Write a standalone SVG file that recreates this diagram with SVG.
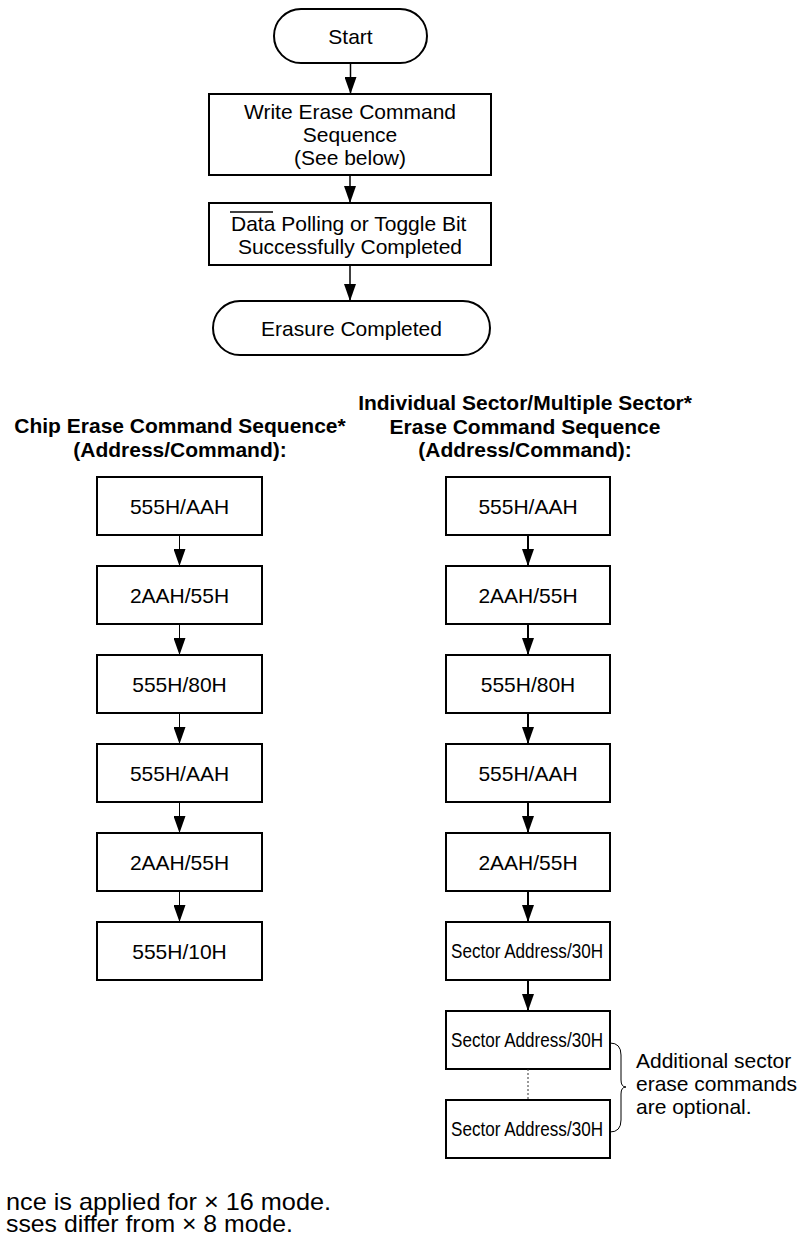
<svg xmlns="http://www.w3.org/2000/svg" width="801" height="1237" viewBox="0 0 801 1237">
<style>
  .box{fill:#fff;stroke:#000;stroke-width:2}
  .t{font-family:"Liberation Sans",Arial,sans-serif;font-size:21px;fill:#000;text-anchor:middle}
  .h{font-family:"Liberation Sans",Arial,sans-serif;font-size:21px;font-weight:bold;fill:#000;text-anchor:middle}
  .n{font-family:"Liberation Sans",Arial,sans-serif;font-size:20px;fill:#000}
  .l{font-family:"Liberation Sans",Arial,sans-serif;font-size:21px;fill:#000}
  .f{font-family:"Liberation Sans",Arial,sans-serif;font-size:24px;fill:#000}
  .c1{stroke:#000;stroke-width:1.5;fill:none}
  .c2{stroke:#000;stroke-width:1;fill:none}
  .c3{stroke:#000;stroke-width:2;fill:none}
</style>
<defs>
  <marker id="ah" markerUnits="userSpaceOnUse" markerWidth="17" markerHeight="12" viewBox="0 0 17 12" refX="17" refY="6" orient="auto">
    <path d="M0,0 L17,6 L0,12 z" fill="#000"/>
  </marker>
</defs>

<g id="start">
  <rect class="box" x="274" y="9" width="153" height="54" rx="27"/>
  <text class="t" x="350.5" y="44">Start</text>
</g>
<g id="write">
  <rect class="box" x="209" y="94" width="282" height="81"/>
  <text class="t" x="350" y="119">Write Erase Command</text>
  <text class="t" x="350" y="142">Sequence</text>
  <text class="t" x="350" y="165">(See below)</text>
</g>
<g id="poll">
  <rect class="box" x="209" y="203" width="282" height="62"/>
  <text class="l" x="231" y="231">Data Polling or Toggle Bit</text>
  <line x1="230" y1="212" x2="273" y2="212" stroke="#000" stroke-width="1.5"/>
  <text class="t" x="350" y="254">Successfully Completed</text>
</g>
<g id="done">
  <rect class="box" x="213" y="301" width="277" height="54" rx="27"/>
  <text class="t" x="351.5" y="336">Erasure Completed</text>
</g>

<g id="head-chip">
  <text class="h" x="180" y="433">Chip Erase Command Sequence*</text>
  <text class="h" x="180" y="457">(Address/Command):</text>
</g>
<g id="head-sector">
  <text class="h" x="525" y="410">Individual Sector/Multiple Sector*</text>
  <text class="h" x="525" y="433.5">Erase Command Sequence</text>
  <text class="h" x="525" y="457">(Address/Command):</text>
</g>

<g id="chip1"><rect class="box" x="97" y="477" width="165" height="58"/><text class="t" x="179.5" y="514">555H/AAH</text></g>
<g id="chip2"><rect class="box" x="97" y="566" width="165" height="58"/><text class="t" x="179.5" y="603">2AAH/55H</text></g>
<g id="chip3"><rect class="box" x="97" y="655" width="165" height="58"/><text class="t" x="179.5" y="692">555H/80H</text></g>
<g id="chip4"><rect class="box" x="97" y="744" width="165" height="58"/><text class="t" x="179.5" y="781">555H/AAH</text></g>
<g id="chip5"><rect class="box" x="97" y="833" width="165" height="58"/><text class="t" x="179.5" y="870">2AAH/55H</text></g>
<g id="chip6"><rect class="box" x="97" y="922" width="165" height="58"/><text class="t" x="179.5" y="959">555H/10H</text></g>

<g id="sec1"><rect class="box" x="446" y="477" width="164" height="58"/><text class="t" x="528" y="514">555H/AAH</text></g>
<g id="sec2"><rect class="box" x="446" y="566" width="164" height="58"/><text class="t" x="528" y="603">2AAH/55H</text></g>
<g id="sec3"><rect class="box" x="446" y="655" width="164" height="58"/><text class="t" x="528" y="692">555H/80H</text></g>
<g id="sec4"><rect class="box" x="446" y="744" width="164" height="58"/><text class="t" x="528" y="781">555H/AAH</text></g>
<g id="sec5"><rect class="box" x="446" y="833" width="164" height="58"/><text class="t" x="528" y="870">2AAH/55H</text></g>
<g id="sec6"><rect class="box" x="446" y="922" width="164" height="58"/><text class="n" x="451" y="958" textLength="152" lengthAdjust="spacingAndGlyphs">Sector Address/30H</text></g>
<g id="sec7"><rect class="box" x="446" y="1011" width="164" height="58"/><text class="n" x="451" y="1047" textLength="152" lengthAdjust="spacingAndGlyphs">Sector Address/30H</text></g>
<g id="sec8"><rect class="box" x="446" y="1100" width="164" height="58"/><text class="n" x="451" y="1136" textLength="152" lengthAdjust="spacingAndGlyphs">Sector Address/30H</text></g>

<g id="note">
  <path class="c2" d="M610,1043 Q621,1043 621,1055 L621,1080 Q621,1087 626,1087 Q621,1087 621,1094 L621,1120 Q621,1132 610,1132"/>
  <text class="l" x="636" y="1068">Additional sector</text>
  <text class="l" x="636" y="1091">erase commands</text>
  <text class="l" x="636" y="1114">are optional.</text>
</g>

<g id="connectors">
  <line class="c1" x1="350.5" y1="63" x2="350.5" y2="94" marker-end="url(#ah)"/>
  <line class="c1" x1="350" y1="175" x2="350" y2="203" marker-end="url(#ah)"/>
  <line class="c1" x1="350" y1="265" x2="350" y2="301" marker-end="url(#ah)"/>

  <line class="c2" x1="179.5" y1="535" x2="179.5" y2="566" marker-end="url(#ah)"/>
  <line class="c2" x1="179.5" y1="624" x2="179.5" y2="655" marker-end="url(#ah)"/>
  <line class="c2" x1="179.5" y1="713" x2="179.5" y2="744" marker-end="url(#ah)"/>
  <line class="c2" x1="179.5" y1="802" x2="179.5" y2="833" marker-end="url(#ah)"/>
  <line class="c2" x1="179.5" y1="891" x2="179.5" y2="922" marker-end="url(#ah)"/>

  <line class="c3" x1="528" y1="535" x2="528" y2="566" marker-end="url(#ah)"/>
  <line class="c3" x1="528" y1="624" x2="528" y2="655" marker-end="url(#ah)"/>
  <line class="c3" x1="528" y1="713" x2="528" y2="744" marker-end="url(#ah)"/>
  <line class="c3" x1="528" y1="802" x2="528" y2="833" marker-end="url(#ah)"/>
  <line class="c3" x1="528" y1="891" x2="528" y2="922" marker-end="url(#ah)"/>
  <line class="c3" x1="528" y1="980" x2="528" y2="1011" marker-end="url(#ah)"/>
  <line x1="528" y1="1069" x2="528" y2="1100" stroke="#333" stroke-width="1" stroke-dasharray="2,2"/>
</g>

<g id="footnote">
  <text class="f" x="6" y="1210" textLength="325" lengthAdjust="spacingAndGlyphs">nce is applied for × 16 mode.</text>
  <text class="f" x="6" y="1232" textLength="287" lengthAdjust="spacingAndGlyphs">sses differ from × 8 mode.</text>
</g>
</svg>
